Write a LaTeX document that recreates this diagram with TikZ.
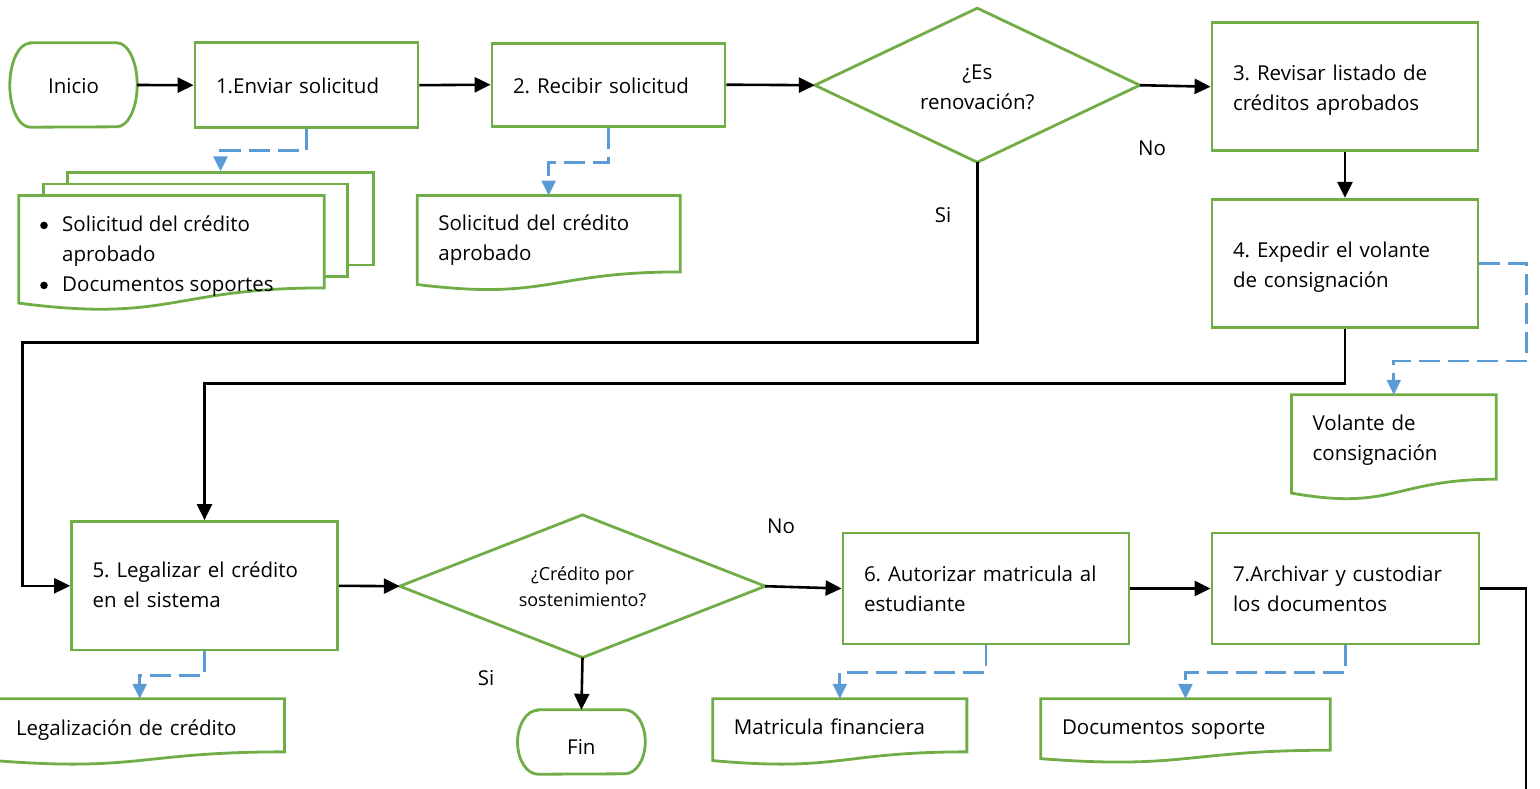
\documentclass[tikz,border=0pt]{standalone}
\usepackage{fontspec}
\usepackage{graphicx}
\setmainfont{Open Sans}
\usetikzlibrary{arrows.meta,calc}
\definecolor{grn}{HTML}{70AD47}
\definecolor{blu}{HTML}{5B9BD5}
\newcommand{\mfs}{\fontsize{20.5}{30}\selectfont\frenchspacing}
\newcommand{\sfs}{\fontsize{18}{26}\selectfont\frenchspacing}
\newcommand{\dn}[2]{\raisebox{-#1}[\height][\depth]{\begin{tabular}{@{}l@{}}#2\end{tabular}}}
\newcommand{\dnc}[2]{\raisebox{-#1}[\height][\depth]{\begin{tabular}{@{}c@{}}#2\end{tabular}}}
\newcommand{\bul}{\makebox[23pt][l]{\hspace{1pt}\tikz[baseline=0pt]\fill (0pt,6pt) circle[radius=3.8pt];}}
\tikzset{
  greenline/.style={draw=grn, line width=2.8pt, line join=miter},
  box/.style={draw=grn, line width=2.8pt, rectangle, align=left, inner xsep=21pt, inner ysep=0pt, font=\mfs},
  docbox/.style={draw=none, rectangle, align=left, inner xsep=21pt, inner ysep=0pt, font=\mfs},
  shapebox/.style={draw=none, rectangle, inner sep=0pt, align=center, font=\mfs},
  lbl/.style={inner sep=0pt, font=\mfs},
  flow/.style={draw=black, line width=2.6pt, -{Triangle[length=16pt,width=15pt]}},
  plainflow/.style={draw=black, line width=2.6pt},
  dataflow/.style={draw=blu, line width=2.7pt, dash pattern=on 21pt off 8pt, -{Triangle[length=15pt,width=14pt]}},
}
\newcommand{\docshape}[2]{%
  \draw[greenline,#2] (#1.north west) -- (#1.north east) -- (#1.south east)
    .. controls (#1.south) and ($(#1.north)!1.38!(#1.south)$) ..
    ($(#1.north west)!1.1646!(#1.south west)$) -- cycle;}
\newcommand{\termshape}[3]{%
  \draw[greenline] ([xshift=#2]#1.north west) -- ([xshift=-#2]#1.north east)
    arc[start angle=90,end angle=-90,x radius=#2,y radius=#3]
    -- ([xshift=#2]#1.south west)
    arc[start angle=270,end angle=90,x radius=#2,y radius=#3] -- cycle;}
\begin{document}
\begin{tikzpicture}[x=1pt,y=-1pt]
\useasboundingbox (0,0) rectangle (1540,788);

% terminators
\node[shapebox, minimum width=127pt, minimum height=84pt] (ini) at (73.5,85) {\dnc{2.5pt}{Inicio}};
\termshape{ini}{20.4pt}{42pt}
\node[shapebox, minimum width=127.3pt, minimum height=64pt] (fin) at (581.4,742) {\dnc{6.5pt}{Fin}};
\termshape{fin}{20.4pt}{32pt}

% process boxes
\node[box, minimum width=223pt, minimum height=85pt, text width=181pt] (b1) at (306.5,85.2) {\dn{2.5pt}{1.Enviar solicitud}};
\node[box, minimum width=233pt, minimum height=83pt, text width=191pt] (b2) at (608.5,84.7) {\dn{2.5pt}{2. Recibir solicitud}};
\node[box, minimum width=266pt, minimum height=128pt, text width=224pt] (b3) at (1345,86.7) {\dn{2.5pt}{3. Revisar listado de\\créditos aprobados}};
\node[box, minimum width=266pt, minimum height=128.5pt, text width=224pt] (b4) at (1345,263.5) {\dn{3pt}{4. Expedir el volante\\de consignación}};
\node[box, minimum width=266pt, minimum height=128.5pt, text width=224pt] (b5) at (204.5,585.8) {\dn{1pt}{5. Legalizar el crédito\\en el sistema}};
\node[box, minimum width=286pt, minimum height=111pt, text width=244pt] (b6) at (986,588.5) {\dn{1.5pt}{6. Autorizar matricula al\\estudiante}};
\node[box, minimum width=267pt, minimum height=111pt, text width=225pt] (b7) at (1345.5,588.5) {\dn{1.5pt}{7.Archivar y custodiar\\los documentos}};

% decisions
\node[shapebox, minimum width=324.5pt, minimum height=153.7pt] (d1) at (977.3,85.2) {\dnc{3.5pt}{¿Es\\renovación?}};
\draw[greenline] (d1.west) -- (d1.north) -- (d1.east) -- (d1.south) -- cycle;
\node[shapebox, minimum width=365pt, minimum height=142.3pt, font=\sfs] (d2) at (582.5,586.2) {\dnc{2.5pt}{¿Crédito por\\sostenimiento?}};
\draw[greenline] (d2.west) -- (d2.north) -- (d2.east) -- (d2.south) -- cycle;

% documents
\node[docbox, minimum width=262.7pt, minimum height=76pt, text width=220.7pt] (doc2) at (548.7,233.7) {\dn{5.5pt}{Solicitud del crédito\\aprobado}};
\docshape{doc2}{}
\node[docbox, minimum width=204.3pt, minimum height=84pt, text width=162.3pt] (vol) at (1393.8,437) {\dn{2.5pt}{Volante de\\consignación}};
\docshape{vol}{}
\node[docbox, minimum width=289.3pt, minimum height=52.7pt, text width=247.3pt] (leg) at (139.7,725.3) {\dn{4.5pt}{Legalización de crédito}};
\docshape{leg}{}
\node[docbox, minimum width=253.7pt, minimum height=52.7pt, text width=211.7pt] (mat) at (839.8,725.3) {\dn{3.5pt}{Matricula financiera}};
\docshape{mat}{}
\node[docbox, minimum width=289pt, minimum height=51pt, text width=247pt] (ds) at (1185.5,724.5) {\dn{3.5pt}{Documentos soporte}};
\docshape{ds}{}

% multi-document
\node[draw=grn, line width=2.8pt, fill=white, minimum width=305.6pt, minimum height=92.3pt, inner sep=0pt] (mdback) at (220.5,218.8) {};
\node[draw=grn, line width=2.8pt, fill=white, minimum width=304pt, minimum height=92.7pt, inner sep=0pt] (mdmid) at (195.3,230.3) {};
\node[draw=none, minimum width=305pt, minimum height=92pt, inner sep=0pt] (mdfront) at (171.5,241.7) {};
\docshape{mdfront}{fill=white}
\node[lbl, anchor=west, align=left] (mdtext) at (39,256) {\bul Solicitud del crédito\\\hspace*{23pt}aprobado\\\bul Documentos soportes};

% labels
\node[lbl] (no1) at (1152,148) {No};
\node[lbl] (si1) at (943,215) {Si};
\node[lbl] (si2) at (486,678) {Si};
\node[lbl] (no2) at (781,526) {No};
\coordinate (endpt) at (1526,792);

% flow connectors
\draw[flow] (ini.east) -- (b1.west);
\draw[flow] (b1.east) -- (b2.west);
\draw[flow] (b2.east) -- (d1.west);
\draw[flow] (d1.east) -- (b3.west);
\draw[flow] (b3.south) -- (b4.north);
\draw[flow] (b4.south) -- ++(0,54.6) -| (b5.north);
\draw[flow] (d1.south) -- ++(0,180) -| ($(b5.west)+(-47.5,0)$) -- (b5.west);
\draw[flow] (b5.east) -- (d2.west);
\draw[flow] (d2.south) -- (fin.north);
\draw[flow] (d2.east) -- (b6.west);
\draw[flow] (b6.east) -- (b7.west);
\draw[plainflow] (b7.east) -| (endpt);

% data connectors
\draw[dataflow] (b1.south) -- ++(0,21.6) -| (mdback.north);
\draw[dataflow] (b2.south) -- ++(0,34.7) -| (doc2.north);
\draw[dataflow] (b4.east) -- ++(47.3,0) -- ++(0,97.5) -| (vol.north);
\draw[dataflow] (b5.south) -- ++(0,24) -| (leg.north);
\draw[dataflow] (b6.south) -- ++(0,27) -| (mat.north);
\draw[dataflow] (b7.south) -- ++(0,27) -| (ds.north);
\end{tikzpicture}
\end{document}
